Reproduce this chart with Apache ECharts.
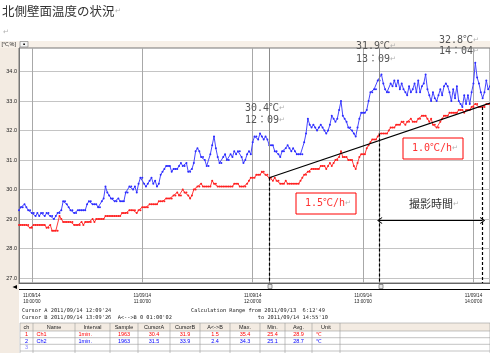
<!DOCTYPE html>
<html>
<head>
<meta charset="utf-8">
<script src="https://cdn.jsdelivr.net/npm/echarts@6/dist/echarts.min.js"></script>
<style>
html, body { margin: 0; padding: 0; background: #fff; }
#chart { width: 490px; height: 353px; }
</style>
</head>
<body>
<div id="chart"></div>
<script>
// 1 min samples, 09:53 .. 14:09
const times = []
for (let m = 9 * 60 + 53; m <= 14 * 60 + 9; m++) {
  times.push(String(Math.floor(m / 60)).padStart(2, '0') + ':' + String(m % 60).padStart(2, '0'))
}
const dateLabel = '11/09/14'
const yTicks = [27, 28, 29, 30, 31, 32, 33, 34]

// Ch1 (red)
const ch1Temp = [
  28.8, 28.8, 28.8, 28.8, 28.8, 28.8, 28.7, 28.7, 28.8, 28.8,
  28.8, 28.8, 28.8, 28.8, 28.8, 28.7, 28.7, 28.8, 28.6, 28.6,
  28.6, 28.6, 29.1, 29.0, 28.9, 28.9, 28.9, 28.9, 28.9, 28.9,
  28.8, 28.8, 28.8, 28.8, 28.9, 28.8, 28.9, 28.9, 28.9, 28.9,
  29.0, 28.9, 29.0, 29.0, 29.0, 29.0, 29.0, 29.1, 29.1, 29.1,
  29.1, 29.1, 29.1, 29.1, 29.1, 29.1, 29.2, 29.2, 29.2, 29.2,
  29.3, 29.3, 29.3, 29.3, 29.2, 29.3, 29.3, 29.4, 29.4, 29.4,
  29.4, 29.5, 29.5, 29.5, 29.5, 29.5, 29.6, 29.6, 29.6, 29.6,
  29.7, 29.7, 29.7, 29.7, 29.8, 29.8, 29.9, 29.8, 29.8, 30.0,
  29.9, 29.9, 29.8, 29.7, 29.8, 30.0, 30.0, 30.1, 30.1, 30.2,
  30.1, 30.1, 30.1, 30.1, 30.1, 30.3, 30.2, 30.2, 30.1, 30.1,
  30.1, 30.1, 30.1, 30.1, 30.1, 30.1, 30.1, 30.2, 30.2, 30.2,
  30.1, 30.1, 30.1, 30.1, 30.2, 30.3, 30.4, 30.4, 30.4, 30.5,
  30.5, 30.5, 30.6, 30.6, 30.5, 30.5, 30.4, 30.4, 30.3, 30.4,
  30.3, 30.3, 30.2, 30.2, 30.2, 30.3, 30.2, 30.2, 30.2, 30.2,
  30.2, 30.2, 30.2, 30.3, 30.4, 30.5, 30.5, 30.6, 30.6, 30.7,
  30.7, 30.7, 30.7, 30.7, 30.8, 30.8, 30.8, 30.7, 30.8, 30.9,
  30.8, 30.9, 31.0, 31.0, 31.1, 31.3, 31.1, 31.1, 31.1, 31.0,
  31.0, 31.0, 30.8, 30.7, 30.9, 31.1, 31.2, 31.2, 31.2, 31.4,
  31.5, 31.6, 31.7, 31.7, 31.7, 31.8, 31.9, 31.9, 31.9, 31.9,
  31.9, 32.0, 32.1, 32.1, 32.1, 32.2, 32.2, 32.2, 32.3, 32.3,
  32.2, 32.3, 32.3, 32.4, 32.3, 32.3, 32.3, 32.4, 32.4, 32.5,
  32.5, 32.5, 32.4, 32.3, 32.4, 32.2, 32.2, 32.1, 32.1, 32.3,
  32.4, 32.5, 32.5, 32.5, 32.6, 32.6, 32.6, 32.6, 32.6, 32.7,
  32.7, 32.7, 32.6, 32.7, 32.7, 32.7, 32.8, 32.8, 32.9, 32.9,
  32.8, 32.8, 32.8, 32.8, 32.9, 32.9, 32.9
]

// Ch2 (blue)
const ch2Temp = [
  29.3, 29.4, 29.4, 29.5, 29.4, 29.3, 29.3, 29.2, 29.2, 29.1,
  29.2, 29.1, 29.2, 29.2, 29.1, 29.2, 29.2, 29.1, 29.1, 29.0,
  29.1, 29.2, 29.2, 29.3, 29.6, 29.6, 29.5, 29.4, 29.3, 29.3,
  29.2, 29.2, 29.3, 29.3, 29.3, 29.3, 29.3, 29.5, 29.6, 29.6,
  29.5, 29.5, 29.5, 29.4, 29.4, 29.6, 29.7, 30.1, 29.9, 29.8,
  29.7, 29.7, 29.6, 29.6, 29.7, 29.6, 29.6, 29.6, 29.9, 29.9,
  30.1, 30.1, 30.0, 30.1, 29.9, 30.2, 30.4, 30.4, 30.2, 30.1,
  30.2, 30.3, 30.4, 30.2, 30.3, 30.1, 30.2, 30.5, 30.6, 30.7,
  30.8, 30.8, 30.8, 30.6, 30.7, 30.7, 30.7, 30.8, 30.9, 30.8,
  30.8, 30.9, 30.6, 30.6, 30.7, 30.9, 31.3, 31.4, 31.3, 31.1,
  31.1, 31.0, 30.8, 30.8, 31.2, 31.5, 31.8, 31.4, 31.1, 30.9,
  30.9, 31.1, 31.2, 31.0, 31.0, 31.2, 31.1, 31.3, 31.2, 31.3,
  31.3, 31.1, 30.9, 31.0, 31.2, 31.3, 31.2, 31.6, 31.8, 31.8,
  31.7, 31.9, 31.8, 31.7, 31.8, 31.7, 31.5, 31.5, 31.5, 31.3,
  31.3, 31.2, 31.1, 31.3, 31.3, 31.4, 31.5, 31.4, 31.3, 31.4,
  31.3, 31.2, 31.2, 31.2, 31.2, 31.6, 31.9, 32.4, 32.2, 32.1,
  32.2, 32.1, 32.0, 32.1, 32.2, 32.1, 32.0, 31.9, 32.0, 32.2,
  32.5, 32.4, 32.3, 32.4, 32.7, 33.0, 32.5, 32.4, 32.3, 32.1,
  32.1, 32.0, 31.9, 31.8, 32.1, 32.4, 32.6, 32.6, 32.6, 32.7,
  33.0, 33.3, 33.3, 33.4, 33.4, 33.7, 33.7, 33.9, 33.6, 33.4,
  33.3, 33.3, 33.6, 33.5, 33.7, 33.5, 33.7, 33.4, 33.6, 33.4,
  33.3, 33.2, 33.5, 33.3, 33.4, 33.6, 33.3, 33.7, 33.3, 33.5,
  33.6, 33.9, 33.4, 33.2, 33.0, 33.3, 33.1, 33.0, 33.2, 33.4,
  33.2, 33.5, 33.6, 33.5, 33.3, 33.0, 33.4, 33.1, 33.5, 33.0,
  32.9, 32.8, 33.2, 32.9, 33.2, 32.9, 33.3, 33.6, 34.3, 33.8,
  33.6, 33.3, 33.1, 33.3, 33.7, 33.4, 33.5
]

const yMin = 26.83
const yMax = 34.8

// annotations drawn in data space
const cursorTimes = ['12:09', '13:09']
const dropPoints = [['12:09', 30.4], ['13:09', 31.9], ['14:05', 32.8]]
const trendLine = [['12:09', 30.4], ['14:09', 32.93]]
const spanArrow = [['13:09', 28.95], ['14:05', 28.95]]

// table below the chart
const tableHeaders = ['ch', 'Name', 'Interval', 'Sample', 'CursorA', 'CursorB', 'A<->B', 'Max.', 'Min.', 'Avg.', 'Unit']
const ch1Row = ['1', 'Ch1', '1min.', '1963', '30.4', '31.9', '1.5', '35.4', '25.4', '28.9', '℃']
const ch2Row = ['2', 'Ch2', '1min.', '1963', '31.5', '33.9', '2.4', '34.3', '25.1', '28.7', '℃']
const cursorInfo = [
  "Cursor A 2011/09/14 12:09'24",
  "Cursor B 2011/09/14 13:09'26  A<-->B 0 01:00'02"
]
const rangeInfo = [
  "Calculation Range from 2011/09/13  6:12'49",
  "to 2011/09/14 14:55'10"
]

const beige = '#f3ebe2'
const mono = "'DejaVu Sans Mono', 'Noto Sans CJK JP', monospace"
const sans = "'Liberation Sans', Arial, sans-serif"
const jp = "'Noto Sans CJK JP', sans-serif"
const chevron = 'path://M0,10 L5,0 L10,10 L8.6,10 L5,3 L1.4,10 Z'

const colEdges = [20, 33, 75, 110, 138, 170, 200, 230, 260, 285, 312, 340, 490]
const leftCols = [1, 2, 10]
const rowTops = [323, 331, 337.7, 344.3, 351]

const txt = (text, x, y, opt = {}) => ({
  type: 'text', x, y, z: 20,
  style: Object.assign({
    text, fontSize: 5.5, fontFamily: sans, fill: '#222',
    align: 'left', verticalAlign: 'middle'
  }, opt)
})

const buildGraphics = () => {
  const g = []
  // left strip and header band (kept under the axis labels)
  g.push({ type: 'rect', z: -10, shape: { x: 0, y: 41, width: 490, height: 7 }, style: { fill: '#f7f0e8' } })
  g.push({ type: 'rect', z: -10, shape: { x: 0, y: 48, width: 19, height: 305 }, style: { fill: beige } })
  g.push(txt('[℃,%]', 1.5, 44.5, { fontSize: 5.5 }))
  g.push({ type: 'rect', z: 2, shape: { x: 20, y: 41.5, width: 8, height: 5.5 }, style: { fill: '#f4f4f4', stroke: '#888', lineWidth: 0.7 } })
  g.push({ type: 'rect', z: 3, shape: { x: 23.3, y: 43.5, width: 1.6, height: 1.6 }, style: { fill: '#000' } })

  // scroll bar under the plot
  g.push({ type: 'line', z: 2, shape: { x1: 19, y1: 289.5, x2: 490, y2: 289.5 }, style: { stroke: '#000', lineWidth: 1 } })
  g.push({ type: 'polygon', z: 2, shape: { points: [[12.5, 287], [17, 285], [17, 289]] }, style: { fill: '#000' } })
  ;[270, 381].forEach(x => {
    g.push({ type: 'rect', z: 3, shape: { x: x - 2, y: 284.5, width: 4, height: 4 }, style: { fill: '#e8e8e8', stroke: '#555', lineWidth: 0.6 } })
  })

  // cursor / range info
  cursorInfo.forEach((s, i) => g.push(txt(s, 22, 310.7 + i * 6.6, { fontFamily: mono, fontSize: 5.3 })))
  g.push(txt(rangeInfo[0], 191, 310.7, { fontFamily: mono, fontSize: 5.3 }))
  g.push(txt(rangeInfo[1], 328, 317.3, { fontFamily: mono, fontSize: 5.3, align: 'right' }))

  // table
  g.push({ type: 'rect', z: 2, shape: { x: 20, y: rowTops[0], width: 470, height: rowTops[1] - rowTops[0] }, style: { fill: beige } })
  rowTops.forEach(y => g.push({ type: 'line', z: 3, shape: { x1: 20, y1: y, x2: 490, y2: y }, style: { stroke: '#9a9a9a', lineWidth: 0.6 } }))
  colEdges.forEach(x => g.push({ type: 'line', z: 3, shape: { x1: x, y1: rowTops[0], x2: x, y2: 353 }, style: { stroke: '#9a9a9a', lineWidth: 0.6 } }))
  const rows = [[tableHeaders, '#222'], [ch1Row, '#ff0000'], [ch2Row, '#0000ff']]
  rows.forEach(([cells, color], r) => {
    const cy = (rowTops[r] + rowTops[r + 1]) / 2
    cells.forEach((c, k) => {
      const left = r > 0 && leftCols.includes(k)
      const x = left ? colEdges[k] + 3.5 : (colEdges[k] + colEdges[k + 1]) / 2
      g.push(txt(c, x, cy, { fill: color, align: left ? 'left' : 'center' }))
    })
  })
  g.push(txt('3', 26.5, (rowTops[3] + rowTops[4]) / 2, { fill: '#8080ff', align: 'center' }))

  // title and paragraph marks
  const rich = { r: { fontSize: 7, fill: '#b0b0b0', fontFamily: sans } }
  g.push(txt('北側壁面温度の状況{r|↵}', 2, 11, { fontSize: 12.5, fontFamily: jp, fill: '#333', rich }))
  g.push(txt('↵', 3, 32, { fontSize: 7, fill: '#b0b0b0' }))

  // value call-outs
  const note = { fontSize: 10, fontFamily: mono, fill: '#555', rich }
  g.push(txt('30.4℃{r|↵}', 245, 108, note))
  g.push(txt('12：09{r|↵}', 245, 120.5, note))
  g.push(txt('31.9℃{r|↵}', 356, 46, note))
  g.push(txt('13：09{r|↵}', 356, 59, note))
  g.push(txt('32.8℃{r|↵}', 439, 40, note))
  g.push(txt('14：04{r|↵}', 439, 51.5, note))

  // rate boxes
  g.push({ type: 'rect', z: 15, shape: { x: 296, y: 193, width: 60, height: 21 }, style: { fill: '#fff', stroke: '#ff0000', lineWidth: 1 } })
  g.push(txt('1.5℃/h{r|↵}', 305, 203.5, Object.assign({}, note, { fill: '#ff3030' })))
  g.push({ type: 'rect', z: 15, shape: { x: 403, y: 138, width: 60, height: 21 }, style: { fill: '#fff', stroke: '#ff0000', lineWidth: 1 } })
  g.push(txt('1.0℃/h{r|↵}', 412, 148.5, Object.assign({}, note, { fill: '#ff3030' })))

  g.push(txt('撮影時間{r|↵}', 409, 204, { fontSize: 11, fontFamily: jp, fill: '#333', rich }))
  return g
}

const chart = echarts.init(document.getElementById('chart'))

const isHour = (i, v) => v.endsWith(':00')

chart.setOption({
  animation: false,
  backgroundColor: '#fff',
  grid: {
    left: 19, right: 0, top: 48, bottom: 70,
    show: true, backgroundColor: '#fff', borderColor: '#777', borderWidth: 1,
    containLabel: false
  },
  xAxis: {
    type: 'category',
    data: times,
    boundaryGap: false,
    axisLine: { lineStyle: { color: '#666' } },
    axisTick: { show: false },
    axisLabel: {
      interval: isHour,
      formatter: v => dateLabel + '\n' + v + "'00",
      fontSize: 4.6, lineHeight: 6.8, margin: 9, color: '#222', fontFamily: sans
    },
    splitLine: { show: true, interval: isHour, lineStyle: { color: '#a8a8a8', width: 1 } }
  },
  yAxis: {
    type: 'value',
    min: yMin, max: yMax,
    axisLine: { show: true, lineStyle: { color: '#777' } },
    axisTick: { show: false, customValues: yTicks },
    axisLabel: {
      customValues: yTicks,
      formatter: v => v.toFixed(1),
      fontSize: 5.5, color: '#222', margin: 2, fontFamily: sans
    },
    splitLine: { lineStyle: { color: '#c4c4c4', width: 1 } }
  },
  series: [
    {
      name: 'Ch2',
      type: 'line',
      data: ch2Temp,
      symbol: 'circle', symbolSize: 2, showAllSymbol: true,
      itemStyle: { color: '#2b2bff' },
      lineStyle: { color: '#4646ff', width: 1 },
      z: 3,
      markLine: {
        silent: true, symbol: 'none', label: { show: false },
        lineStyle: { color: '#8c8c8c', type: 'solid', width: 1 },
        data: cursorTimes.map(t => ({ xAxis: t }))
      }
    },
    {
      name: 'Ch1',
      type: 'line',
      data: ch1Temp,
      symbol: 'circle', symbolSize: 2, showAllSymbol: true,
      itemStyle: { color: '#ff1f1f' },
      lineStyle: { color: '#ff3a3a', width: 1 },
      z: 4,
      markLine: {
        silent: true, symbol: 'none', label: { show: false },
        data: dropPoints.map(p => [
          { coord: p, lineStyle: { color: '#000', type: [3, 2], width: 1.2 } },
          { coord: [p[0], yMin] }
        ]).concat([[
          { coord: spanArrow[0], symbol: chevron, symbolSize: [7, 5], lineStyle: { color: '#000', type: 'solid', width: 1 } },
          { coord: spanArrow[1], symbol: chevron, symbolSize: [7, 5] }
        ]])
      }
    },
    {
      name: 'trend',
      type: 'line',
      data: trendLine,
      symbol: 'none',
      lineStyle: { color: '#000', width: 1.2 },
      z: 5
    }
  ],
  graphic: { elements: buildGraphics() }
})
</script>
</body>
</html>
